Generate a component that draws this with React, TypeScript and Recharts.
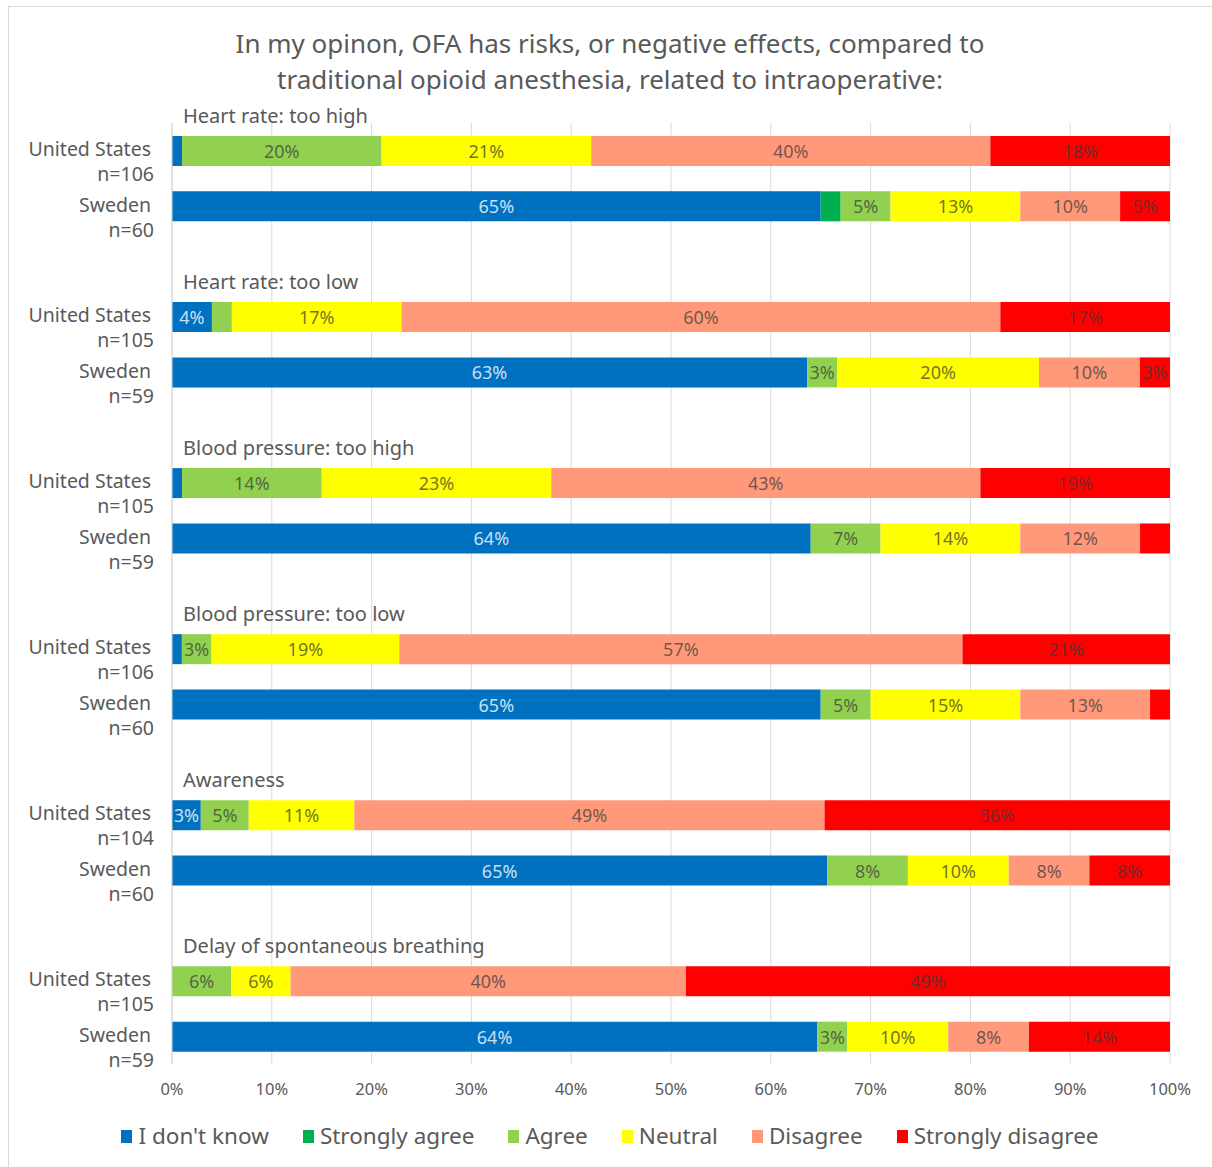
import React from 'react';
import { BarChart, Bar, XAxis, YAxis, CartesianGrid, LabelList } from 'recharts';

// Survey: OFA risks vs traditional opioid anesthesia, per question, US vs Sweden.
// Values are the percentages printed on the bars; the chart is 100% stacked (expand),
// so rows that round to 99 or 104 still fill the full width like the original.

const groupTitles = [
  'Heart rate: too high',
  'Heart rate: too low',
  'Blood pressure: too high',
  'Blood pressure: too low',
  'Awareness',
  'Delay of spontaneous breathing',
];

const usLabel = 'United States';
const seLabel = 'Sweden';
const usN = [106, 105, 105, 106, 104, 105];
const seN = [60, 59, 59, 60, 60, 59];

const usDontKnow = [1, 4, 1, 1, 3, 0];
const usStronglyAgree = [0, 0, 0, 0, 0, 0];
const usAgree = [20, 2, 14, 3, 5, 6];
const usNeutral = [21, 17, 23, 19, 11, 6];
const usDisagree = [40, 60, 43, 57, 49, 40];
const usStronglyDisagree = [18, 17, 19, 21, 36, 49];

const seDontKnow = [65, 63, 64, 65, 65, 64];
const seStronglyAgree = [2, 0, 0, 0, 0, 0];
const seAgree = [5, 3, 7, 5, 8, 3];
const seNeutral = [13, 20, 14, 15, 10, 10];
const seDisagree = [10, 10, 12, 13, 8, 8];
const seStronglyDisagree = [5, 3, 3, 2, 8, 14];

// segments the original left without a printed label
const unlabeled = ['2-se-sd'];

const xTicks = [0, 10, 20, 30, 40, 50, 60, 70, 80, 90, 100];

const series = [
  { key: 'dk', name: "I don't know", color: '#0070C0', us: usDontKnow, se: seDontKnow },
  { key: 'sa', name: 'Strongly agree', color: '#00B050', us: usStronglyAgree, se: seStronglyAgree },
  { key: 'ag', name: 'Agree', color: '#92D050', us: usAgree, se: seAgree },
  { key: 'ne', name: 'Neutral', color: '#FFFF00', us: usNeutral, se: seNeutral },
  { key: 'di', name: 'Disagree', color: '#FF9979', us: usDisagree, se: seDisagree },
  { key: 'sd', name: 'Strongly disagree', color: '#FF0000', us: usStronglyDisagree, se: seStronglyDisagree },
];

const FONT = '"Noto Sans", "Open Sans", sans-serif';
const TEXT = '#595959';

type Row = { id: string; kind: 'us' | 'se' | 'sp'; country?: string; n?: number; title?: string; [k: string]: any };

const rows: Row[] = [];
groupTitles.forEach((title, g) => {
  (['us', 'se'] as const).forEach((c) => {
    const row: Row = {
      id: `${g}-${c}`,
      kind: c,
      country: c === 'us' ? usLabel : seLabel,
      n: c === 'us' ? usN[g] : seN[g],
      title,
    };
    series.forEach((s) => {
      const v = s[c][g];
      row[s.key] = v;
      const hide = v < 3 || unlabeled.includes(`${g}-${c}-${s.key}`);
      row[`${s.key}Label`] = hide ? '' : `${v}%`;
    });
    rows.push(row);
  });
  if (g < groupTitles.length - 1) rows.push({ id: `${g}-sp`, kind: 'sp' });
});
const rowsById: Record<string, Row> = {};
rows.forEach((r) => (rowsById[r.id] = r));

const RowTick = (props: any) => {
  const { y, payload } = props;
  const row = rowsById[payload.value];
  if (!row || row.kind === 'sp') return <g />;
  return (
    <g fontFamily={FONT} fill={TEXT} fontSize={19.5}>
      {row.kind === 'us' && (
        <text x={183} y={y - 35} dominantBaseline="central" fontSize={20}>
          {row.title}
        </text>
      )}
      <text x={151} y={y - 2} textAnchor="end" dominantBaseline="central">
        {row.country}
      </text>
      <text x={154} y={y + 23} textAnchor="end" dominantBaseline="central">
        n={row.n}
      </text>
    </g>
  );
};

const makeLabel = (light: boolean) => (props: any) => {
  const vb = props.viewBox || props;
  const { x, y, width, height } = vb;
  if (!props.value) return null;
  return (
    <text
      x={x + width / 2}
      y={y + height / 2}
      textAnchor="middle"
      dominantBaseline="central"
      fontFamily={FONT}
      fontSize={18}
      fill={light ? '#ffffff' : '#3a3a3a'}
      fillOpacity={light ? 0.8 : 0.72}
    >
      {props.value}
    </text>
  );
};

export default function App() {
  return (
    <div style={{ position: 'absolute', left: 0, top: 0, width: 1212, height: 1167, overflow: 'hidden', background: '#fff' }}>
      <div style={{ position: 'absolute', left: 8, top: 6, width: 1220, height: 1180, border: '1px solid #d9d9d9' }} />
      <div
        style={{
          position: 'absolute',
          left: 8,
          top: 25,
          width: 1204,
          textAlign: 'center',
          fontFamily: FONT,
          fontSize: 26,
          lineHeight: '36px',
          color: TEXT,
        }}
      >
        In my opinon, OFA has risks, or negative effects, compared to
        <br />
        traditional opioid anesthesia, related to intraoperative:
      </div>
      <div style={{ position: 'absolute', left: 0, top: 0 }}>
        <BarChart
          width={1212}
          height={1167}
          data={rows}
          layout="vertical"
          stackOffset="expand"
          margin={{ top: 123, right: 42, bottom: 73, left: 0 }}
        >
          <CartesianGrid horizontal={false} stroke="#d9d9d9" />
          <XAxis
            type="number"
            domain={[0, 1]}
            ticks={xTicks.map((t) => t / 100)}
            tickFormatter={(v: number) => `${Math.round(v * 100)}%`}
            axisLine={false}
            tickLine={false}
            tickSize={0}
            tickMargin={19}
            height={30}
            tick={{ fill: TEXT, fontSize: 16.5, fontFamily: FONT }}
          />
          <YAxis
            type="category"
            dataKey="id"
            width={172}
            interval={0}
            axisLine={{ stroke: '#d9d9d9' }}
            tickLine={false}
            tick={<RowTick />}
          />
          {series.map((s) => (
            <Bar key={s.key} dataKey={s.key} name={s.name} stackId="a" fill={s.color} barSize={30} isAnimationActive={false}>
              <LabelList dataKey={`${s.key}Label`} content={makeLabel(s.key === 'dk')} />
            </Bar>
          ))}
        </BarChart>
      </div>
      <div
        style={{
          position: 'absolute',
          left: 8,
          top: 1120,
          width: 1204,
          display: 'flex',
          justifyContent: 'center',
          gap: 34,
          fontFamily: FONT,
          fontSize: 22.5,
          color: TEXT,
          lineHeight: '32px',
        }}
      >
        {series.map((s) => (
          <div key={s.key} style={{ display: 'flex', alignItems: 'center' }}>
            <span style={{ display: 'inline-block', width: 11, height: 13, background: s.color, marginRight: 6 }} />
            {s.name}
          </div>
        ))}
      </div>
    </div>
  );
}
